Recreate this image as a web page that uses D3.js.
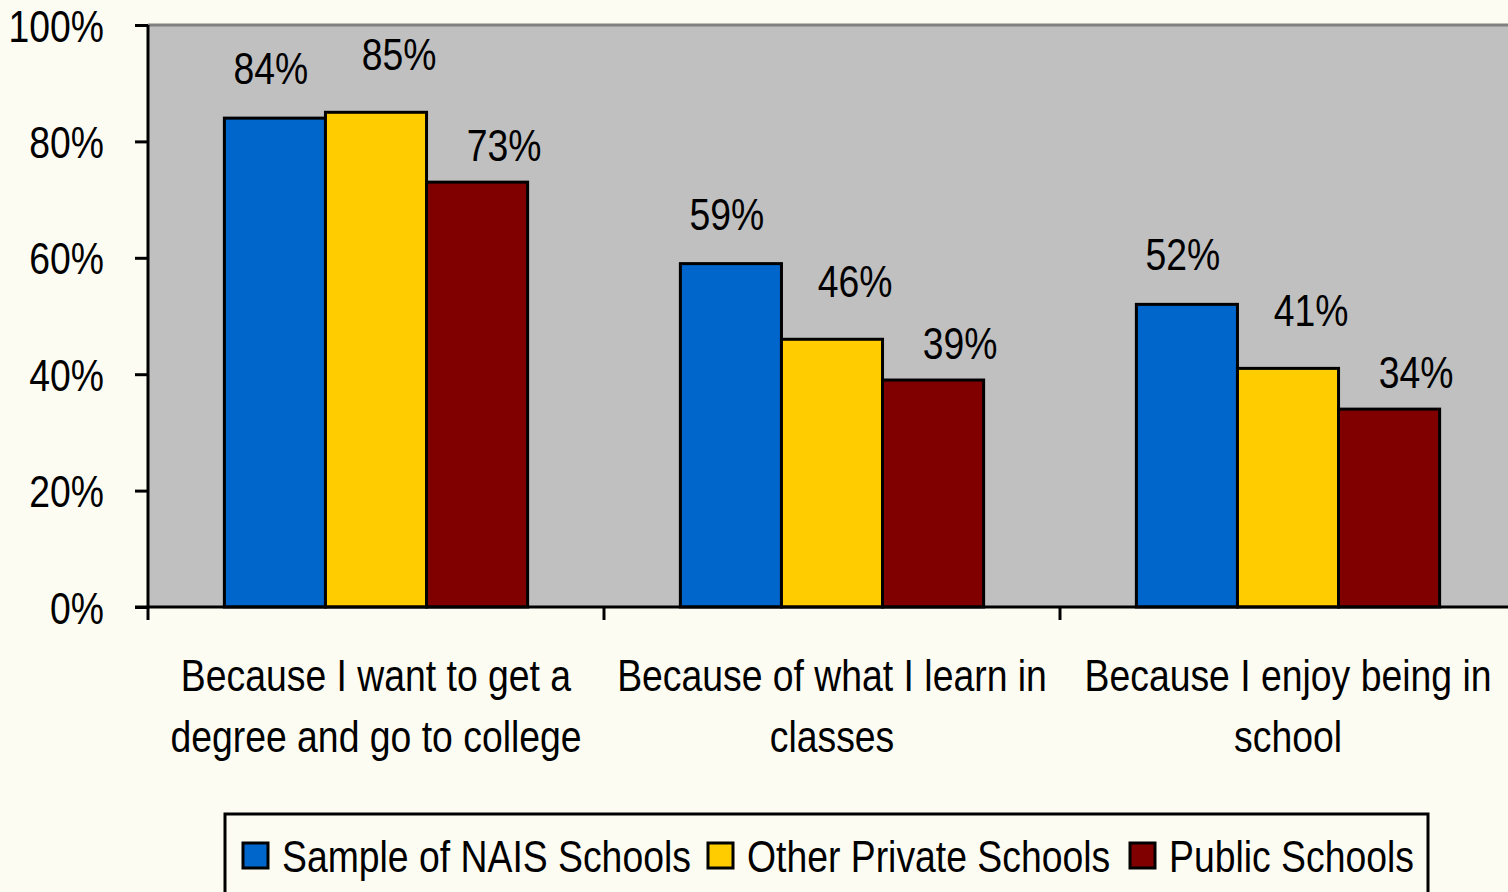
<!DOCTYPE html>
<html lang="en">
<head>
<meta charset="UTF-8">
<title>Reasons for going to school</title>
<style>
  html, body { margin: 0; padding: 0; background: #fdfcf3; }
  svg { display: block; }
  text { font-family: "Liberation Sans", Arial, sans-serif; fill: #000; }
</style>
</head>
<body>
<div id="chart"></div>
<script src="https://d3js.org/d3.v7.min.js"></script>
<script>
// data
const categories = [
  ["Because I want to get a", "degree and go to college"],
  ["Because of what I learn in", "classes"],
  ["Because I enjoy being in", "school"]
];
const seriesNames = ["Sample of NAIS Schools", "Other Private Schools", "Public Schools"];
const nais     = [84, 59, 52];
const private_ = [85, 46, 41];
const pub      = [73, 39, 34];
const yTicks   = [0, 20, 40, 60, 80, 100];

const colors = ["#0066cc", "#ffcc00", "#800000"];
const values = [nais, private_, pub];

const W = 1508, H = 892;
const plot = {left: 148, top: 25, right: 1516, bottom: 607};
const fontSize = 45;
const SX = 0.83; // squeeze text horizontally, no narrow font installed

const svg = d3.select("#chart").append("svg")
    .attr("width", W).attr("height", H);

function squeeze(x, y) {
  return "translate(" + x + "," + y + ") scale(" + SX + ",1)";
}

// scales
const x0 = d3.scaleBand()
    .domain(d3.range(categories.length))
    .range([plot.left, plot.right])
    .paddingInner(0.335)
    .paddingOuter(0.1675);
const x1 = d3.scaleBand()
    .domain(d3.range(seriesNames.length))
    .range([0, x0.bandwidth()]);
const y = d3.scaleLinear().domain([0, 100]).range([plot.bottom, plot.top]);

// plot area
svg.append("rect")
    .attr("x", plot.left).attr("y", plot.top)
    .attr("width", plot.right - plot.left).attr("height", plot.bottom - plot.top)
    .attr("fill", "#c0c0c0");
svg.append("line")
    .attr("x1", plot.left).attr("x2", plot.right)
    .attr("y1", plot.top).attr("y2", plot.top)
    .attr("stroke", "#808080").attr("stroke-width", 3);

// bars
const groups = svg.append("g").selectAll("g")
    .data(categories)
    .join("g")
    .attr("transform", (d, i) => "translate(" + x0(i) + ",0)");

groups.selectAll("rect")
    .data((d, i) => values.map((s, j) => ({s: j, v: s[i]})))
    .join("rect")
    .attr("x", d => x1(d.s))
    .attr("y", d => y(d.v))
    .attr("width", x1.bandwidth())
    .attr("height", d => y(0) - y(d.v))
    .attr("fill", d => colors[d.s])
    .attr("stroke", "#000")
    .attr("stroke-width", 3);

// value labels (offsets per series, as placed in the original)
const labelDx = [-4, 23, 27];
const labelGap = [34, 42, 21];
groups.selectAll("text.val")
    .data((d, i) => values.map((s, j) => ({s: j, v: s[i]})))
    .join("text")
    .attr("class", "val")
    .attr("transform", d => squeeze(x1(d.s) + x1.bandwidth() / 2 + labelDx[d.s], y(d.v) - labelGap[d.s]))
    .attr("text-anchor", "middle")
    .attr("font-size", fontSize)
    .text(d => d.v + "%");

// y axis
const yAxis = svg.append("g")
    .attr("transform", "translate(" + plot.left + ",0)")
    .call(d3.axisLeft(y).tickValues(yTicks).tickFormat(d => d + "%").tickSize(13));
yAxis.select(".domain").attr("stroke", "#000").attr("stroke-width", 3)
    .attr("d", "M0," + plot.top + "V" + plot.bottom);
yAxis.selectAll(".tick line").attr("stroke", "#000").attr("stroke-width", 3);
yAxis.selectAll(".tick text")
    .attr("x", null).attr("dy", null)
    .attr("transform", squeeze(-44, 16))
    .attr("font-size", fontSize)
    .style("font-family", "\"Liberation Sans\", Arial, sans-serif");

// x axis line and boundary ticks
svg.append("line")
    .attr("x1", plot.left - 13).attr("x2", plot.right)
    .attr("y1", plot.bottom).attr("y2", plot.bottom)
    .attr("stroke", "#000").attr("stroke-width", 3);
svg.append("g").selectAll("line")
    .data(d3.range(categories.length + 1))
    .join("line")
    .attr("x1", i => plot.left + i * x0.step())
    .attr("x2", i => plot.left + i * x0.step())
    .attr("y1", plot.bottom).attr("y2", plot.bottom + 13)
    .attr("stroke", "#000").attr("stroke-width", 3);

// category labels
groups.append("text")
    .attr("transform", squeeze(x0.bandwidth() / 2, 691))
    .attr("text-anchor", "middle")
    .attr("font-size", fontSize)
    .selectAll("tspan")
    .data(d => d)
    .join("tspan")
    .attr("x", 0)
    .attr("dy", (d, i) => i === 0 ? 0 : 61)
    .text(d => d);

// legend
const legend = svg.append("g");
legend.append("rect")
    .attr("x", 225).attr("y", 814)
    .attr("width", 1203).attr("height", 120)
    .attr("fill", "none").attr("stroke", "#000").attr("stroke-width", 3);
const legendX = [243, 708, 1130];
const item = legend.selectAll("g.item")
    .data(seriesNames)
    .join("g")
    .attr("class", "item")
    .attr("transform", (d, i) => "translate(" + legendX[i] + ",843)");
item.append("rect")
    .attr("width", 25).attr("height", 25)
    .attr("fill", (d, i) => colors[i])
    .attr("stroke", "#000").attr("stroke-width", 3);
item.append("text")
    .attr("transform", squeeze(39, 29))
    .attr("font-size", fontSize)
    .text(d => d);
</script>
</body>
</html>
